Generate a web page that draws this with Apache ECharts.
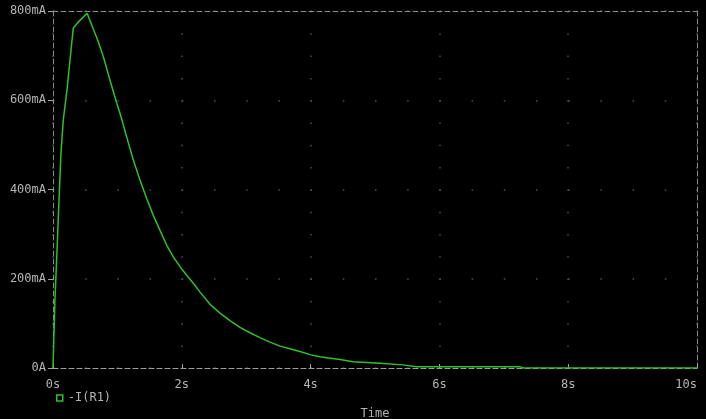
<!DOCTYPE html>
<html>
<head>
<meta charset="utf-8">
<script src="https://cdn.jsdelivr.net/npm/echarts@6/dist/echarts.min.js"></script>
<style>
html,body{margin:0;padding:0;background:#000;}
#c{width:706px;height:419px;}
</style>
</head>
<body>
<div id="c"></div>
<script>
// time in seconds
var timeS = [0, 0.03, 0.067, 0.093, 0.124, 0.16, 0.197, 0.217, 0.28, 0.315, 0.39, 0.53,
  0.703, 0.781, 0.885, 0.989, 1.04, 1.144, 1.247, 1.351, 1.455, 1.557, 1.66, 1.766, 1.868,
  1.972, 2.076, 2.179, 2.283, 2.438, 2.593, 2.748, 2.904, 3.059, 3.214, 3.37, 3.525, 3.68,
  3.835, 3.991, 4.146, 4.25, 4.457, 4.66, 5.08, 5.43, 5.65, 7.25, 7.3, 10];
// -I(R1) in mA
var currentMA = [0, 152, 280, 376, 482, 556, 600, 623, 713, 762, 775, 795,
  731, 698, 645, 594, 571, 518, 466, 421, 380, 342, 309, 275, 249,
  227, 208, 190, 170, 143, 123, 106, 91, 79, 68, 58, 49, 43,
  37, 30, 25, 23, 19, 14, 10.5, 7, 3, 3, 0, 0];
var xTicks = ['0s', '2s', '4s', '6s', '8s', '10s'];
var yTicks = ['0A', '200mA', '400mA', '600mA', '800mA'];
var seriesName = '-I(R1)';
var xName = 'Time';

var FONT = 'DejaVu Sans Mono';
var LBL = '#b4b4b4';
var AX = '#8a8a8a';
var GREEN = '#2fc02f';

var data = timeS.map(function (t, i) { return [t, currentMA[i]]; });

var chart = echarts.init(document.getElementById('c'));
chart.setOption({
  backgroundColor: '#000',
  animation: false,
  grid: { left: 53, right: 9, top: 11, bottom: 51, containLabel: false, outerBoundsMode: 'none' },
  legend: {
    left: 56, top: 392, padding: 0,
    itemWidth: 6, itemHeight: 6, itemGap: 8,
    icon: 'rect',
    itemStyle: { color: 'transparent', borderColor: GREEN, borderWidth: 1.5 },
    textStyle: { color: LBL, fontFamily: FONT, fontSize: 12 },
    data: [seriesName]
  },
  xAxis: [{
    type: 'value', min: 0, max: 10, interval: 2,
    name: xName, nameLocation: 'middle', nameGap: 40,
    nameTextStyle: { color: LBL, fontFamily: FONT, fontSize: 12 },
    axisLine: { show: true, onZero: false, lineStyle: { color: '#a0a0a0', type: [5, 3], width: 1 } },
    axisTick: { show: true, inside: true, length: 4, lineStyle: { color: '#a0a0a0' } },
    axisLabel: {
      color: LBL, fontFamily: FONT, fontSize: 12, margin: 11, alignMaxLabel: 'right',
      formatter: function (v) { return xTicks[Math.round(v / 2)]; }
    },
    splitLine: { show: true, lineStyle: { color: '#505050', width: 1.5, type: [1.5, 20.8] } }
  }, {
    type: 'value', min: 0, max: 10, interval: 2, position: 'top',
    axisLine: { show: true, onZero: false, lineStyle: { color: AX, type: [5, 3] } },
    axisTick: { show: false }, axisLabel: { show: false }, splitLine: { show: false }
  }],
  yAxis: [{
    type: 'value', min: 0, max: 800, interval: 200,
    axisLine: { show: true, onZero: false, lineStyle: { color: AX, type: [5, 3] } },
    axisTick: { show: true, length: 5, lineStyle: { color: '#a0a0a0' } },
    axisLabel: {
      color: LBL, fontFamily: FONT, fontSize: 12, margin: 7,
      formatter: function (v) { return yTicks[Math.round(v / 200)]; }
    },
    splitLine: { show: true, lineStyle: { color: '#505050', width: 1.5, type: [1.5, 30.7] } }
  }, {
    type: 'value', min: 0, max: 800, interval: 200, position: 'right',
    axisLine: { show: true, onZero: false, lineStyle: { color: AX, type: [5, 3] } },
    axisTick: { show: false }, axisLabel: { show: false }, splitLine: { show: false }
  }],
  series: [{
    name: seriesName,
    type: 'line',
    data: data,
    showSymbol: false,
    symbol: 'rect',
    lineStyle: { color: GREEN, width: 1.5 },
    itemStyle: { color: GREEN },
    z: 5
  }]
});
</script>
</body>
</html>
